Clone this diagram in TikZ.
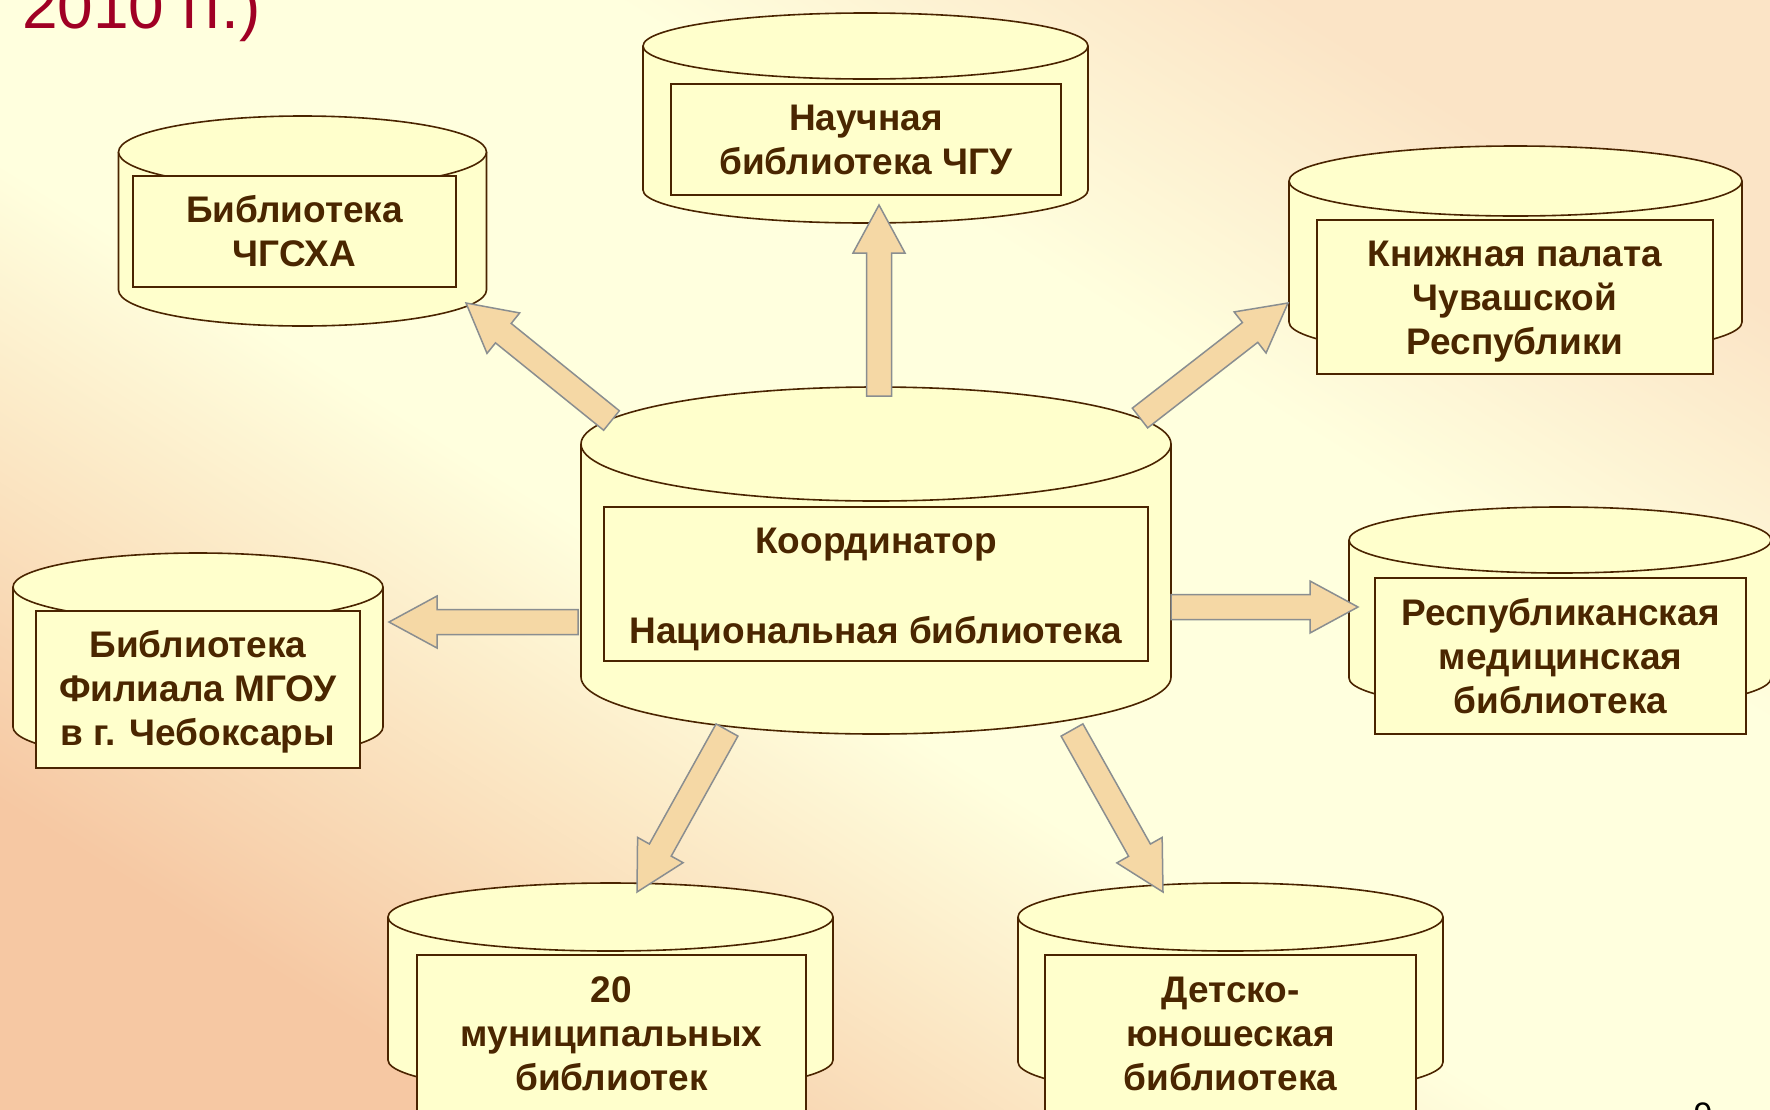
\documentclass[tikz,border=0pt]{standalone}
\usepackage{fontspec}
\setmainfont{Liberation Sans}
\usetikzlibrary{calc}
\definecolor{bgpeach}{HTML}{F6C8A3}
\definecolor{bgyel}{HTML}{FFFFDE}
\definecolor{bgpeachtwo}{HTML}{FBE4C6}
\definecolor{cylfill}{HTML}{FFFFCC}
\definecolor{cylline}{HTML}{4A2400}
\definecolor{txtbrown}{HTML}{4A2600}
\definecolor{arrfill}{HTML}{F5D8A5}
\definecolor{arrline}{HTML}{8A8E90}
\definecolor{titlered}{HTML}{A00024}
\pgfdeclarehorizontalshading{bgshade}{100bp}{color(0bp)=(bgpeach); color(25bp)=(bgpeach); color(45bp)=(bgyel); color(62bp)=(bgyel); color(75bp)=(bgpeachtwo); color(100bp)=(bgpeachtwo)}
\tikzset{
  cyledge/.style={draw=cylline, line width=1.6pt},
  boxtext/.style={text=txtbrown, inner sep=0pt, font=\bfseries\fontsize{37}{44}\selectfont, align=center},
  libbox/.style={boxtext, draw=cylline, fill=cylfill, line width=1.6pt},
  blockarrow/.style={draw=arrline, fill=arrfill, line width=1.5pt, line join=miter},
}
% cx, ytop, rx, ry, ybottom
\newcommand{\cyldraw}[5]{%
  \fill[cylfill] (#1-#3,#2) -- (#1-#3,#5) arc[start angle=180,end angle=0,x radius=#3,y radius=#4] -- (#1+#3,#2) -- cycle;
  \draw[cyledge] (#1-#3,#2) -- (#1-#3,#5) arc[start angle=180,end angle=0,x radius=#3,y radius=#4] -- (#1+#3,#2);
  \filldraw[cyledge, fill=cylfill] (#1,#2) ellipse[x radius=#3, y radius=#4];
}
\newcommand{\blockarr}[2]{%
  \coordinate (hb) at ($(#2)!48pt!(#1)$);
  \draw[blockarrow] ($(#1)!12.5pt!90:(#2)$) -- ($(hb)!12.5pt!90:(#2)$) -- ($(hb)!26pt!90:(#2)$) -- (#2)
    -- ($(hb)!26pt!-90:(#2)$) -- ($(hb)!12.5pt!-90:(#2)$) -- ($(#1)!12.5pt!-90:(#2)$) -- cycle;
}
\begin{document}
\begin{tikzpicture}[x=1pt, y=-1pt]
\useasboundingbox (0,0) rectangle (1770,1109);
\clip (0,0) rectangle (1770,1109);
\shade[shading=bgshade, shading angle=58] (0,0) rectangle (1770,1109);

\node[anchor=base west, inner sep=0pt, text=titlered, font=\fontsize{64}{70}\selectfont] (title) at (22,28) {2010 гг.)};
\node[anchor=base, inner sep=0pt, text=black, font=\fontsize{34}{40}\selectfont] (pagenum) at (1703,1126) {9};

% cylinders
\cyldraw{865.5}{46}{222.5}{33}{190}
\cyldraw{302.5}{152}{184}{36}{290}
\cyldraw{1515.5}{181}{226.5}{35}{322}
\cyldraw{1560}{540}{211}{33}{678}
\cyldraw{198}{587}{185}{34}{727}
\cyldraw{610.5}{917}{222.5}{34}{1060}
\cyldraw{1230.5}{917}{212.5}{34}{1062}
\cyldraw{876}{444}{295}{57}{677}

% boxes
\node[libbox, minimum width=390pt, minimum height=111pt] (nauch) at (866,139.5) {Научная\\библиотека ЧГУ};
\node[libbox, minimum width=323pt, minimum height=111pt] (chgsha) at (294.5,231.5) {Библиотека\\ЧГСХА};
\node[libbox, minimum width=396pt, minimum height=154pt] (knizh) at (1515,297) {};
\node[boxtext] (knizhtext) at (1515,302) {Книжная палата\\Чувашской\\Республики};
\node[libbox, minimum width=371pt, minimum height=156pt] (resp) at (1560.5,656) {Республиканская\\медицинская\\библиотека};
\node[libbox, minimum width=324pt, minimum height=157pt] (mgou) at (198,689.5) {};
\node[boxtext] (mgoutext) at (198,691.5) {Библиотека\\Филиала МГОУ\\в г. Чебоксары};
\node[libbox, minimum width=389pt, minimum height=158pt] (munic) at (611.5,1034) {20\\муниципальных\\библиотек};
\node[libbox, minimum width=371pt, minimum height=158pt] (detsk) at (1230.5,1034) {Детско-\\юношеская\\библиотека};
\node[libbox, minimum width=544pt, minimum height=154pt] (nat) at (876,584) {};
\node[boxtext] (nattext) at (876,589) {Координатор\\[46pt]Национальная библиотека};

% arrow end points
\coordinate (natN) at (879,396);   \coordinate (nauchS) at (879,205);
\coordinate (natNW) at (611.5,420.5); \coordinate (chgshaSE) at (466,303);
\coordinate (natNE) at (1140,418); \coordinate (knizhSW) at (1288,303);
\coordinate (natE) at (1171,607);  \coordinate (respW) at (1358,607);
\coordinate (natW) at (578,622);   \coordinate (mgouE) at (389,622);
\coordinate (natSW) at (727,730);  \coordinate (municN) at (637,892);
\coordinate (natSE) at (1072,730); \coordinate (detskN) at (1163,892);

\blockarr{natN}{nauchS}
\blockarr{natNW}{chgshaSE}
\blockarr{natNE}{knizhSW}
\blockarr{natE}{respW}
\blockarr{natW}{mgouE}
\blockarr{natSW}{municN}
\blockarr{natSE}{detskN}
\end{tikzpicture}
\end{document}
